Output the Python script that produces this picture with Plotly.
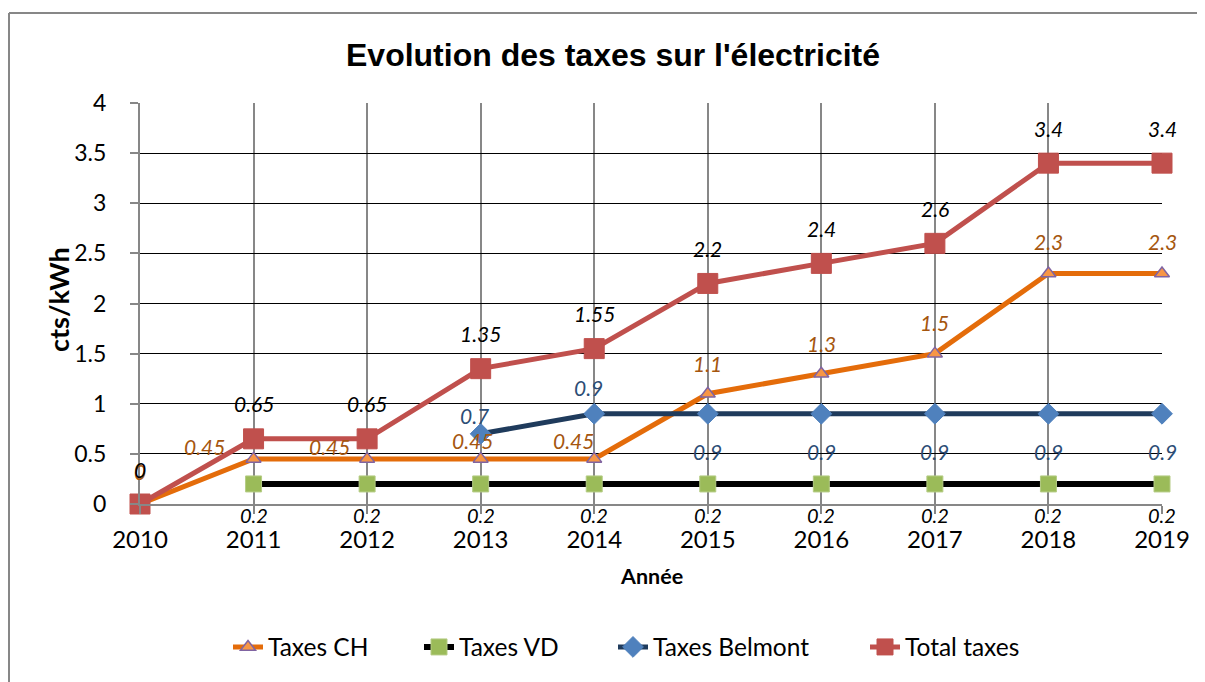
import plotly.graph_objects as go

years = [2010, 2011, 2012, 2013, 2014, 2015, 2016, 2017, 2018, 2019]
taxes_ch = [0, 0.45, 0.45, 0.45, 0.45, 1.1, 1.3, 1.5, 2.3, 2.3]
taxes_vd = [None, 0.2, 0.2, 0.2, 0.2, 0.2, 0.2, 0.2, 0.2, 0.2]
taxes_belmont = [None, None, None, 0.7, 0.9, 0.9, 0.9, 0.9, 0.9, 0.9]
total_taxes = [0, 0.65, 0.65, 1.35, 1.55, 2.2, 2.4, 2.6, 3.4, 3.4]
y_ticks = [0, 0.5, 1, 1.5, 2, 2.5, 3, 3.5, 4]

# label offsets in pixels (style)
off_total = [(0, 35)] * 10
off_ch = [(0, 33), (-49, 12), (-38, 12), (-8, 18), (-21, 18), (0, 30), (0, 30), (0, 31), (0, 32), (0, 32)]
off_vd = [(0, -31)] * 10
off_bel = [None, None, None, (-6, 18), (-6, 26), (0, -38), (0, -38), (0, -38), (0, -38), (0, -38)]

FONT = "Lato"
PAGE_OFF = 8  # body margin of the page
W, H = 1205 - PAGE_OFF, 682 - PAGE_OFF
L, T = 140 - PAGE_OFF, 103 - PAGE_OFF
R = W - (1162 - PAGE_OFF)
B = H - (504 - PAGE_OFF)
PW, PH = W - L - R, H - T - B

def px_x(sx):
    return (sx - PAGE_OFF - L) / PW

def px_y(sy):
    return (H - B - (sy - PAGE_OFF)) / PH

fig = go.Figure()

series = [
    ("Taxes CH", taxes_ch, dict(color="#E46C0A", width=5),
     dict(symbol="triangle-up", size=13, color="#F79646", line=dict(color="#8064A2", width=1.5)), "legend"),
    ("Taxes VD", taxes_vd, dict(color="#000000", width=6),
     dict(symbol="square", size=16, color="#9BBB59", line=dict(color="#B5CC85", width=1)), "legend2"),
    ("Taxes Belmont", taxes_belmont, dict(color="#1F3B5C", width=5),
     dict(symbol="diamond", size=16, color="#4F81BD", line=dict(color="#4F81BD", width=1)), "legend3"),
    ("Total taxes", total_taxes, dict(color="#C0504D", width=5),
     dict(symbol="square", size=20, color="#C0504D", line=dict(color="#C0504D", width=1)), "legend4"),
]
for name, vals, line, marker, leg in series:
    fig.add_trace(go.Scatter(x=years, y=vals, name=name, mode="lines+markers",
                             line=line, marker=marker, cliponaxis=False,
                             connectgaps=False, legend=leg))

annotations = []
def add_labels(vals, offs, color, size=21):
    for x, v, o in zip(years, vals, offs):
        if v is None or o is None:
            continue
        annotations.append(dict(x=x, y=v, xref="x", yref="y", text=f"{v:g}", showarrow=False,
                                xshift=o[0], yshift=o[1], xanchor="center", yanchor="middle",
                                font=dict(family=FONT, size=size, color=color, style="italic")))

add_labels(taxes_ch, off_ch, "#A5560F")
add_labels(taxes_vd, off_vd, "#000000", size=20)
add_labels(taxes_belmont, off_bel, "#2C4D75")
add_labels(total_taxes, off_total, "#000000")

annotations.append(dict(x=px_x(58), y=px_y(300), xref="paper", yref="paper", text="<b>cts/kWh</b>",
                        textangle=-90, showarrow=False, xanchor="center", yanchor="middle",
                        font=dict(family=FONT, size=27, color="#000")))
annotations.append(dict(x=0.5, y=px_y(576), xref="paper", yref="paper", text="<b>Année</b>",
                        showarrow=False, xanchor="center", yanchor="middle",
                        font=dict(family=FONT, size=21.5, color="#000")))

legend_common = dict(orientation="h", yanchor="middle", y=px_y(647), xanchor="left",
                     font=dict(family=FONT, size=24.5, color="#000"), bgcolor="rgba(0,0,0,0)",
                     itemwidth=30, tracegroupgap=0)
leg_x = [228, 419, 613, 865]

frame = dict(color="#878787", width=2)
fig.update_layout(
    width=W, height=H,
    margin=dict(l=L, r=R, t=T, b=B),
    paper_bgcolor="white", plot_bgcolor="white",
    title=dict(text="<b>Evolution des taxes sur l'électricité</b>", x=(613 - PAGE_OFF) / W, xref="container",
               y=1 - (55 - PAGE_OFF) / H, yref="container", xanchor="center", yanchor="middle",
               font=dict(family="Liberation Sans", size=32, color="#000")),
    xaxis=dict(range=[2010, 2019], tickmode="array", tickvals=years, ticktext=[str(y) for y in years],
               showgrid=True, gridcolor="#878787", gridwidth=2,
               showline=True, linecolor="#878787", linewidth=2,
               ticks="outside", ticklen=8, tickcolor="#878787", tickwidth=2,
               tickfont=dict(family=FONT, size=24, color="#000"), ticklabelstandoff=5,
               zeroline=False),
    yaxis=dict(range=[0, 4], tickmode="array", tickvals=y_ticks, ticktext=[f"{v:g}" for v in y_ticks],
               showgrid=True, gridcolor="#000000", gridwidth=1,
               showline=True, linecolor="#878787", linewidth=2,
               ticks="outside", ticklen=8, tickcolor="#878787", tickwidth=2,
               tickfont=dict(family=FONT, size=23, color="#000"), ticklabelstandoff=19,
               zeroline=False),
    annotations=annotations,
    legend=dict(legend_common, x=px_x(leg_x[0])),
    legend2=dict(legend_common, x=px_x(leg_x[1])),
    legend3=dict(legend_common, x=px_x(leg_x[2])),
    legend4=dict(legend_common, x=px_x(leg_x[3])),
    shapes=[
        dict(type="line", xref="paper", yref="paper", x0=px_x(9), y0=px_y(13), x1=px_x(1210),
             y1=px_y(13), line=frame, layer="below"),
        dict(type="line", xref="paper", yref="paper", x0=px_x(9), y0=px_y(13), x1=px_x(9),
             y1=px_y(700), line=frame, layer="below"),
    ],
    showlegend=True,
)

fig.write_html("out.html")
